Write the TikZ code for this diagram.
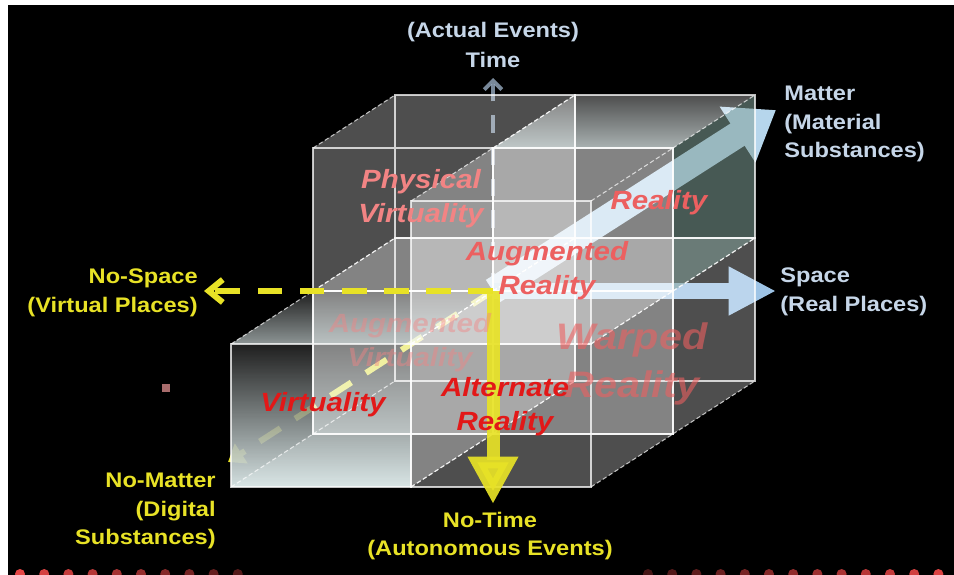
\documentclass[tikz,border=0pt]{standalone}
\usepackage{fontspec}
\setmainfont{Liberation Sans}[FakeStretch=1.12]
\usetikzlibrary{arrows.meta,fadings}

\definecolor{steel}{RGB}{198,214,232}
\definecolor{lemon}{RGB}{232,226,38}
\definecolor{skyarrow}{RGB}{158,196,230}
\definecolor{mattercol}{RGB}{182,214,236}
\definecolor{timecol}{RGB}{150,170,192}
\definecolor{pinklab}{RGB}{242,132,132}
\definecolor{rosered}{RGB}{236,96,96}
\definecolor{redlab}{RGB}{226,24,24}
\definecolor{tealface}{RGB}{60,110,98}
\definecolor{glowwhite}{RGB}{232,246,246}
\definecolor{glowred}{RGB}{255,45,10}
\definecolor{dotred}{RGB}{230,70,70}
\definecolor{speck}{RGB}{168,108,108}

\tikzfading[name=glowup, top color=transparent!100, middle color=transparent!75, bottom color=transparent!0]

\begin{document}
\begin{tikzpicture}[x=0.02cm, y=-0.02cm,
  cubeface/.style={fill=white, fill opacity=0.17},
  cubeline/.style={white, opacity=0.75, line width=0.9pt},
  depthline/.style={white, opacity=0.7, line width=0.6pt, dash pattern=on 2.5pt off 1.5pt},
  yellowdash/.style={lemon, line width=3.4pt, dash pattern=on 14pt off 10pt},
  axislab/.style={inner sep=0pt, font=\fontsize{12}{16.2}\selectfont\bfseries},
  octlab/.style={inner sep=0pt, align=center, font=\fontsize{15}{19.3}\selectfont\bfseries\itshape},
  ]
  % slide frame
  \fill[white] (0,0) rectangle (954,575);
  \fill[black] (8,5) rectangle (954,575);
  \useasboundingbox (0,0) rectangle (954,575);
  \shade[left color=black, middle color=glowred, right color=black] (300,5) rectangle (670,11);
  \foreach \i [evaluate=\i as \op using 1-0.07*\i] in {0,...,9}
    \fill[dotred, opacity=\op] (20+24.2*\i,574) circle (0.1cm);
  \foreach \i [evaluate=\i as \op using 0.3+0.055*\i] in {0,...,12}
    \fill[dotred, opacity=\op] (648+24.2*\i,574) circle (0.1cm);
  \fill[speck] (162,384) rectangle (170,392);

  % axis ends
  \coordinate (O) at (493,291);
  \coordinate (timetip) at (493,78);
  \coordinate (spacetip) at (776,291);
  \coordinate (mattertip) at (776,110);
  \coordinate (nospacetip) at (204,291);
  \coordinate (nomattertip) at (228,462);
  \coordinate (notimetip) at (493,504);

  % axes behind the blocks
  \draw[timecol, opacity=0.8, line width=2.3pt, dash pattern=on 10pt off 8pt, -{Straight Barb[length=5pt,width=10pt]}] (O) -- (timetip);
  \draw[mattercol, line width=15pt, -{Triangle[length=26pt,width=36pt]}] (O) -- (mattertip);
  \draw[skyarrow, line width=9pt, -{Triangle[length=27pt,width=26pt]}] (O) -- (spacetip);
  \draw[yellowdash, -{Triangle[length=9pt,width=13pt]}] (O) -- (nomattertip);

  \def\blocks{-1/-1/0, 0/-1/0, -1/0/0, 0/0/0, -1/-1/-1, 0/-1/-1, 0/0/-1}
  \begin{scope}[shift={(O)}, x={(3.6cm,0cm)}, y={(0cm,2.86cm)}, z={(1.64cm,1.06cm)}]
    % see-through blocks (no upper-left-front one)
    \foreach \i/\j/\k in \blocks {
      \begin{scope}[shift={(\i,\j,\k)}]
        \fill[cubeface] (0,0,0) -- (1,0,0) -- (1,1,0) -- (0,1,0) -- cycle;
        \fill[cubeface] (0,0,1) -- (1,0,1) -- (1,1,1) -- (0,1,1) -- cycle;
        \fill[cubeface] (0,1,0) -- (1,1,0) -- (1,1,1) -- (0,1,1) -- cycle;
        \fill[cubeface] (0,0,0) -- (1,0,0) -- (1,0,1) -- (0,0,1) -- cycle;
        \fill[cubeface] (0,0,0) -- (0,1,0) -- (0,1,1) -- (0,0,1) -- cycle;
        \fill[cubeface] (1,0,0) -- (1,1,0) -- (1,1,1) -- (1,0,1) -- cycle;
      \end{scope}
    }
    % lighting
    \fill[black, fill opacity=0.6] (-1,-1,-1) -- (-1,0,-1) -- (-1,0,0) -- (-1,-1,0) -- cycle;
    \fill[glowwhite, fill opacity=0.9, path fading=glowup] (-1,-1,-1) -- (0,-1,-1) -- (0,0,-1) -- (-1,0,-1) -- cycle;
    \fill[glowwhite, fill opacity=0.55, path fading=glowup] (-1,0,-1) -- (0,0,-1) -- (0,0,0) -- (-1,0,0) -- cycle;
    \fill[white, fill opacity=0.18] (0,0,-1) -- (1,0,-1) -- (1,1,-1) -- (0,1,-1) -- cycle;
    \fill[glowwhite, fill opacity=0.6, path fading=glowup] (0,1,0) -- (1,1,0) -- (1,1,1) -- (0,1,1) -- cycle;
    \fill[tealface, fill opacity=0.35] (1,0,0) -- (1,1,0) -- (1,1,1) -- (1,0,1) -- cycle;
    % block edges
    \foreach \i/\j/\k in \blocks {
      \begin{scope}[shift={(\i,\j,\k)}]
        \draw[cubeline] (0,0,0) -- (1,0,0) -- (1,1,0) -- (0,1,0) -- cycle
                        (0,0,1) -- (1,0,1) -- (1,1,1) -- (0,1,1) -- cycle;
        \draw[depthline] (0,0,0) -- (0,0,1) (1,0,0) -- (1,0,1)
                         (0,1,0) -- (0,1,1) (1,1,0) -- (1,1,1);
      \end{scope}
    }
  \end{scope}

  % axes in front
  \draw[yellowdash, -{Straight Barb[length=8pt,width=13pt]}] (O) -- (nospacetip);
  \draw[lemon, opacity=0.92, line width=7.4pt, -{Triangle[length=27pt,width=27pt]}] (O) -- (notimetip);

  % axis labels
  \node[axislab, steel, align=center, font=\fontsize{12}{17}\selectfont\bfseries] (timelab) at (493,45) {(Actual Events)\\Time};
  \node[axislab, steel, align=left, anchor=west] (matterlab) at (784,124) {Matter\\(Material\\Substances)};
  \node[axislab, steel, align=left, anchor=west] (spacelab) at (780,292) {Space\\(Real Places)};
  \node[axislab, lemon, align=right, anchor=east] (nospacelab) at (198,293) {No-Space\\(Virtual Places)};
  \node[axislab, lemon, align=right, anchor=east] (nomatterlab) at (216,511) {No-Matter\\(Digital\\Substances)};
  \node[axislab, lemon, align=center] (notimelab) at (490,536) {No-Time\\(Autonomous Events)};

  % block labels
  \node[octlab, pinklab] (pvlab) at (421,199) {Physical\\Virtuality};
  \node[octlab, rosered] (reallab) at (659,203) {Reality};
  \node[octlab, rosered] (arlab) at (547,271) {Augmented\\Reality};
  \node[octlab, pinklab, text opacity=0.45] (avlab) at (410,343) {Augmented\\Virtuality};
  \node[octlab, rosered, text opacity=0.6, font=\fontsize{21}{27}\selectfont\bfseries\itshape] (wrlab) at (632,364) {Warped\\Reality};
  \node[octlab, redlab] (vlab) at (323,405) {Virtuality};
  \node[octlab, redlab] (altlab) at (505,407) {Alternate\\Reality};
\end{tikzpicture}
\end{document}
